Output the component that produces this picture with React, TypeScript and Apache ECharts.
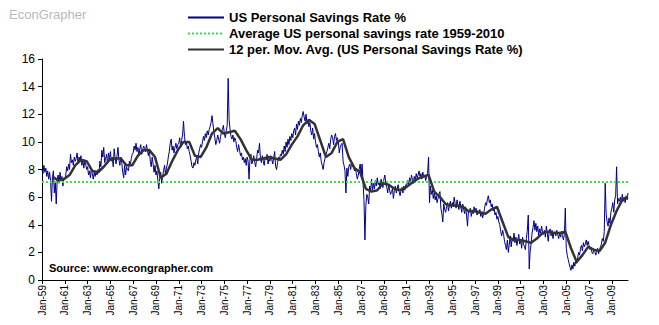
import React, { useEffect, useRef } from "react";
import * as echarts from "echarts";

// Monthly US personal savings rate (%), Jan 1959 – Jun 2010
const rate1959to1968 = [
  8.0, 7.7, 8.3, 7.8, 8.1, 7.5, 7.9, 7.3, 7.8, 7.2, 5.7, 7.4,
  7.9, 6.3, 7.1, 5.5, 7.3, 7.6, 7.0, 7.8, 7.2, 7.5, 6.8, 7.4,
  7.3, 7.6, 8.2, 7.9, 8.4, 8.0, 9.1, 8.5, 8.7, 8.3, 8.9, 8.6,
  8.8, 9.2, 8.4, 8.9, 8.6, 9.0, 8.3, 8.7, 8.1, 8.6, 8.4, 8.0,
  8.2, 7.6, 7.9, 7.4, 8.1, 7.7, 7.3, 7.8, 7.5, 7.9, 7.6, 8.0,
  7.8, 8.6, 8.2, 9.4, 8.9, 9.6, 8.5, 8.8, 9.1, 8.4, 9.2, 8.7,
  9.3, 8.6, 8.9, 8.2, 9.5, 8.8, 8.4, 9.0, 9.6, 8.7, 8.3, 8.9,
  8.5, 7.8, 7.4, 8.3, 7.6, 8.2, 8.0, 7.9, 8.6, 8.3, 8.8, 9.1,
  9.2, 9.7, 9.4, 9.9, 9.3, 9.6, 9.0, 9.5, 9.8, 9.1, 9.4, 9.7,
  9.6, 9.3, 9.8, 9.4, 9.0, 9.5, 8.6, 8.2, 8.9, 8.4, 7.8, 8.3,
];
const rate1969to1978 = [
  7.6, 7.9, 7.2, 6.6, 7.4, 7.8, 7.0, 7.5, 7.9, 8.3, 7.7, 8.1,
  8.4, 8.9, 9.3, 9.9, 10.2, 9.4, 9.7, 9.2, 9.6, 9.9, 9.5, 9.8,
  9.9, 10.3, 9.6, 10.1, 10.5, 11.5, 10.4, 9.8, 10.0, 9.5, 9.7, 9.3,
  9.0, 8.6, 8.2, 8.1, 8.5, 8.3, 8.7, 8.9, 8.4, 9.2, 9.5, 9.8,
  9.6, 10.0, 10.4, 10.1, 10.6, 10.3, 10.8, 10.5, 10.9, 11.1, 11.4, 11.9,
  11.3, 10.7, 10.3, 9.8, 10.1, 10.5, 10.2, 9.9, 10.4, 10.7, 10.9, 11.2,
  10.6, 10.3, 10.8, 11.2, 14.6, 11.6, 10.9, 10.4, 10.2, 10.5, 10.0, 10.3,
  10.1, 9.6, 9.3, 9.8, 9.4, 9.0, 9.2, 8.7, 8.9, 8.5, 8.8, 8.3,
  8.9, 8.6, 7.3, 8.8, 9.1, 8.4, 8.7, 9.0, 8.5, 8.2, 8.8, 9.4,
  9.2, 9.9, 8.8, 8.5, 9.0, 8.6, 8.3, 8.9, 8.7, 9.1, 8.4, 8.8,
];
const rate1979to1988 = [
  8.6, 9.0, 8.7, 8.4, 8.9, 9.3, 8.2, 8.0, 8.5, 8.9, 8.7, 9.1,
  9.0, 9.4, 9.1, 9.7, 9.3, 10.0, 9.6, 10.2, 9.8, 10.4, 10.1, 10.6,
  10.3, 10.8, 11.0, 10.5, 11.3, 10.9, 11.5, 11.2, 11.7, 11.4, 11.9, 12.2,
  11.8, 11.5, 12.0, 11.3, 11.6, 11.1, 11.4, 10.8, 10.5, 11.0, 10.2, 10.6,
  10.0, 9.6, 9.8, 9.3, 8.9, 9.2, 8.6, 8.3, 8.0, 8.5, 8.8, 9.1,
  9.3, 9.6, 9.9, 9.5, 10.2, 10.5, 10.3, 9.8, 10.4, 10.6, 10.1, 10.3,
  10.0, 9.2, 9.6, 9.8, 9.9, 8.6, 8.3, 7.9, 6.3, 8.1, 7.5, 8.2,
  8.4, 8.0, 8.5, 8.2, 8.3, 7.9, 8.1, 7.7, 7.3, 7.6, 8.0, 8.4,
  7.6, 8.4, 7.1, 5.8, 2.9, 5.4, 6.2, 6.0, 5.5, 6.8, 6.4, 7.3,
  6.5, 7.0, 6.6, 7.2, 6.8, 7.4, 6.9, 7.1, 6.6, 7.3, 7.0, 6.7,
];
const rate1989to1998 = [
  7.3, 7.6, 7.0, 6.7, 6.3, 6.9, 6.5, 6.2, 6.4, 6.6, 5.9, 6.5,
  6.8, 6.3, 6.6, 6.9, 6.4, 6.1, 6.5, 6.7, 6.3, 6.8, 6.5, 6.9,
  6.9, 7.2, 6.8, 7.4, 7.1, 7.6, 7.3, 7.0, 7.5, 7.2, 7.7, 7.4,
  7.6, 7.9, 7.5, 7.7, 7.3, 7.8, 7.4, 7.6, 7.2, 7.5, 7.7, 8.9,
  5.6, 6.8, 6.2, 6.5, 5.9, 6.3, 5.8, 6.1, 5.6, 5.9, 6.2, 6.4,
  5.2, 4.8, 4.2, 5.5, 5.1, 4.9, 5.3, 5.6, 5.0, 5.4, 5.7, 5.2,
  5.6, 5.3, 6.0, 5.5, 5.2, 5.8, 5.4, 5.1, 5.7, 5.3, 4.9, 5.5,
  5.1, 4.8, 5.3, 4.7, 3.9, 5.0, 4.9, 5.2, 4.6, 5.0, 4.8, 5.3,
  4.9, 5.2, 4.7, 5.0, 4.8, 5.1, 4.6, 4.9, 4.5, 4.8, 5.2, 5.6,
  5.4, 5.9, 6.1, 5.6, 5.8, 5.3, 5.5, 5.0, 5.2, 4.7, 4.9, 4.4,
];
const rate1999to2010 = [
  4.6, 4.2, 4.0, 3.5, 3.2, 3.6, 3.3, 2.8, 2.5, 2.2, 2.9, 2.0,
  2.6, 3.2, 2.4, 3.0, 2.8, 3.4, 2.7, 3.1, 2.5, 2.9, 3.3, 2.6,
  2.9, 2.3, 3.1, 2.6, 2.4, 2.2, 3.0, 3.6, 4.7, 0.8, 2.1, 2.6,
  3.4, 3.8, 4.3, 3.6, 4.1, 3.5, 3.9, 3.2, 3.7, 3.4, 3.9, 3.5,
  3.3, 3.6, 3.1, 3.9, 3.4, 2.8, 3.5, 3.7, 3.2, 3.6, 3.0, 3.4,
  3.5, 3.2, 3.6, 3.3, 3.0, 3.4, 3.1, 3.5, 3.2, 2.9, 3.3, 5.2,
  2.3, 1.8, 1.5, 1.2, 0.9, 0.7, 1.1, 0.8, 1.3, 1.0, 1.4, 1.2,
  1.6, 2.0, 1.8, 2.3, 2.5, 2.1, 2.7, 2.4, 2.6, 2.9, 2.5, 2.8,
  2.5, 2.2, 2.4, 2.0, 1.9, 2.2, 2.1, 1.8, 2.0, 2.3, 1.9, 2.2,
  2.4, 2.6, 3.0, 2.8, 3.5, 7.0, 4.8, 4.2, 3.9, 4.5, 4.1, 4.9,
  5.2, 5.6, 4.9, 5.8, 6.1, 8.2, 5.5, 5.9, 5.7, 6.0, 5.6, 6.2,
  5.7, 6.0, 5.6, 6.1, 5.8, 6.3,
];

// 12-period moving average, every 6 months from Dec 1959 to Jun 2010
const movingAvgSemiannual = [
  7.5,
  7.2, 7.3, 7.6, 8.3, 8.7, 8.6, 7.9, 7.8, 8.2, 8.7,
  8.8, 8.8, 8.3, 8.3, 9.0, 9.4, 9.4, 8.9, 7.4, 7.7,
  8.6, 9.4, 10.0, 10.0, 9.0, 8.9, 9.6, 10.6, 11.0, 10.6,
  10.7, 10.8, 10.2, 9.4, 8.7, 8.7, 8.8, 8.9, 8.8, 8.7,
  9.1, 9.8, 10.4, 11.2, 11.6, 11.3, 10.1, 8.9, 9.2, 10.0,
  10.2, 8.9, 8.1, 7.8, 6.6, 6.4, 6.5, 7.0, 6.9, 6.6,
  6.5, 6.7, 7.0, 7.3, 7.5, 7.6, 6.4, 6.0, 5.5, 5.4,
  5.4, 5.3, 5.0, 5.0, 4.9, 4.8, 5.1, 5.3, 4.2, 3.1,
  2.9, 2.9, 2.8, 2.7, 3.0, 3.4, 3.5, 3.4, 3.4, 3.5,
  2.3, 1.3, 1.8, 2.4, 2.2, 2.1, 2.7, 4.0, 5.0, 5.8,
  6.0,
];

const averageRate = 7.1;
const startYear = 1959;
const monthNames = ["Jan", "Feb", "Mar", "Apr", "May", "Jun", "Jul", "Aug", "Sep", "Oct", "Nov", "Dec"];

const savingsRate = [
  ...rate1959to1968,
  ...rate1969to1978,
  ...rate1979to1988,
  ...rate1989to1998,
  ...rate1999to2010,
];

const categories = savingsRate.map((_, i) => {
  const yy = (startYear + Math.floor(i / 12)) % 100;
  return `${monthNames[i % 12]}-${String(yy).padStart(2, "0")}`;
});

const movingAvg: (number | null)[] = savingsRate.map(() => null);
movingAvgSemiannual.forEach((v, k) => {
  const idx = 11 + k * 6;
  if (idx < movingAvg.length) movingAvg[idx] = v;
});

const averageLine = savingsRate.map(() => averageRate);

const FONT = "Arial, 'Liberation Sans', sans-serif";

export default function App() {
  const ref = useRef<HTMLDivElement>(null);
  useEffect(() => {
    if (!ref.current) return;
    const chart = echarts.init(ref.current, undefined, { renderer: "svg" });
    chart.setOption({
      animation: false,
      backgroundColor: "#ffffff",
      title: {
        text: "EconGrapher",
        left: 4,
        top: 3,
        textStyle: { fontSize: 13, fontWeight: "normal", color: "#b9b9b9", fontFamily: FONT },
      },
      legend: {
        orient: "vertical",
        left: 182,
        top: 6,
        itemWidth: 36,
        itemHeight: 12,
        itemGap: 3,
        itemStyle: { opacity: 0 },
        textStyle: { fontSize: 13, fontWeight: "bold", color: "#000", fontFamily: FONT },
        data: [
          "US Personal Savings Rate %",
          "Average US personal savings rate 1959-2010",
          "12 per. Mov. Avg. (US Personal Savings Rate %)",
        ],
      },
      graphic: [
        {
          type: "text",
          left: 49,
          top: 262,
          style: {
            text: "Source: www.econgrapher.com",
            font: `bold 11px ${FONT}`,
            fill: "#000",
          },
        },
      ],
      grid: { left: 42, right: 31, top: 59, bottom: 45 },
      xAxis: {
        type: "category",
        data: categories,
        boundaryGap: false,
        axisLine: { lineStyle: { color: "#000", width: 1 } },
        axisTick: { interval: 23, length: 4, lineStyle: { color: "#000" } },
        axisLabel: {
          interval: 23,
          rotate: 90,
          fontSize: 10,
          color: "#000",
          fontFamily: FONT,
          margin: 5,
        },
        splitLine: { show: false },
      },
      yAxis: {
        type: "value",
        min: 0,
        max: 16,
        interval: 2,
        axisLine: { show: true, lineStyle: { color: "#000", width: 1 } },
        axisTick: { show: true, length: 4, lineStyle: { color: "#000" } },
        axisLabel: { fontSize: 12, color: "#000", fontFamily: FONT, margin: 7 },
        splitLine: { show: false },
      },
      series: [
        {
          name: "US Personal Savings Rate %",
          type: "line",
          data: savingsRate,
          symbol: "none",
          color: "#000080",
          lineStyle: { color: "#000080", width: 1 },
          z: 2,
        },
        {
          name: "Average US personal savings rate 1959-2010",
          type: "line",
          data: averageLine,
          symbol: "none",
          color: "#44dd44",
          lineStyle: { color: "#44dd44", width: 2, type: "dotted" },
          z: 3,
        },
        {
          name: "12 per. Mov. Avg. (US Personal Savings Rate %)",
          type: "line",
          data: movingAvg,
          connectNulls: true,
          symbol: "none",
          color: "#333333",
          lineStyle: { color: "#333333", width: 2.5 },
          z: 4,
        },
      ],
    });
    return () => chart.dispose();
  }, []);
  return <div ref={ref} style={{ width: 659, height: 325, position: "absolute", left: 0, top: 0 }} />;
}
